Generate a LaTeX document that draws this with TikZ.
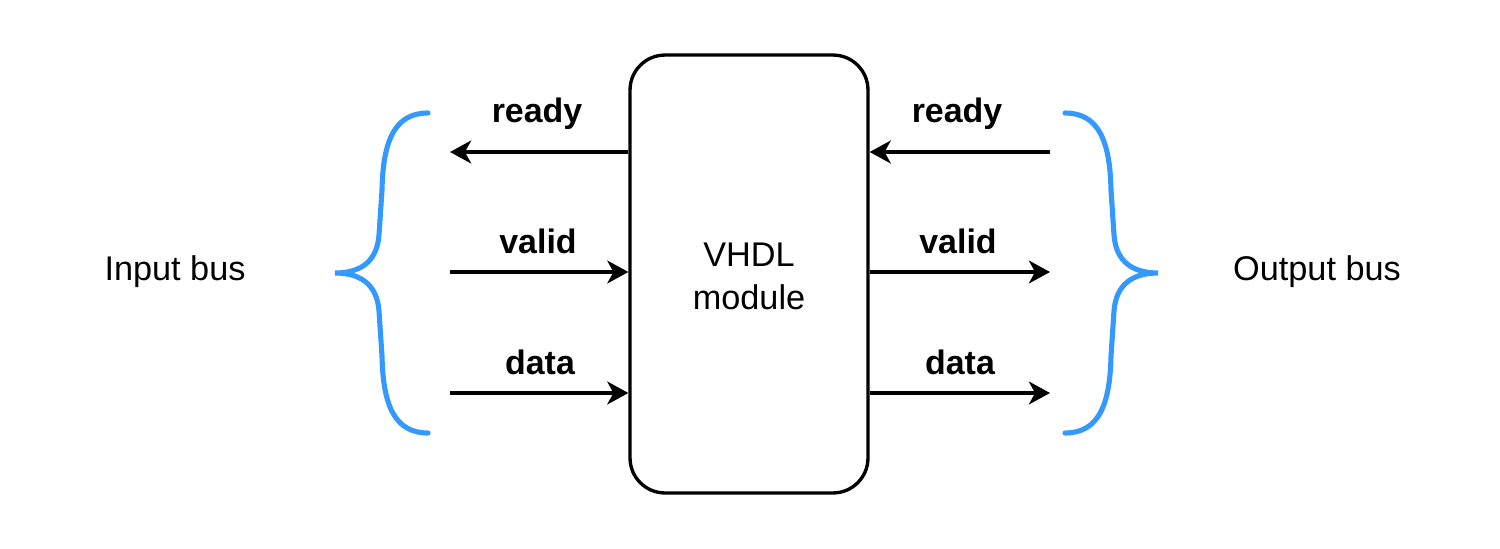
\documentclass[tikz,border=0pt]{standalone}
\usepackage{fontspec}
\setmainfont{Liberation Sans}
\usetikzlibrary{arrows.meta}
\definecolor{bracecol}{HTML}{3399FF}
\begin{document}
\begin{tikzpicture}[x=0.02cm,y=-0.02cm,
  lbl/.style={font=\fontsize{19.3}{23}\selectfont\bfseries, inner sep=0pt},
  txt/.style={font=\fontsize{19.5}{24.5}\selectfont, inner sep=0pt, align=center},
  sig/.style={line width=1.9pt, -{Stealth[length=12pt,width=13pt,inset=3.5pt]}},
  brace/.style={line width=2.9pt, draw=bracecol, line cap=round},
  modbox/.style={draw, line width=1.9pt, rounded corners=0.7cm, minimum width=4.76cm, minimum height=8.76cm, inner sep=0pt}]
\useasboundingbox (0,0) rectangle (1500,548);
\node[modbox] (box) at (749,274) {};
\node[txt] (vhdl) at (749,276) {VHDL\\module};
% free ends
\coordinate (rdL) at (450,152);
\coordinate (vaL) at (450,272);
\coordinate (daL) at (450,393);
\coordinate (rdR) at (1050,152);
\coordinate (vaR) at (1050,272);
\coordinate (daR) at (1050,393);
\draw[sig] (box.west |- rdL) -- (rdL);
\draw[sig] (vaL) -- (box.west |- vaL);
\draw[sig] (daL) -- (box.west |- daL);
\draw[sig] (rdR) -- (box.east |- rdR);
\draw[sig] (box.east |- vaR) -- (vaR);
\draw[sig] (box.east |- daR) -- (daR);
% labels
\node[lbl] (l1) at (537,114) {ready};
\node[lbl] (l2) at (538,241) {valid};
\node[lbl] (l3) at (540,362) {data};
\node[lbl] (r1) at (957,114) {ready};
\node[lbl] (r2) at (958,241) {valid};
\node[lbl] (r3) at (960,362) {data};
% braces
\draw[brace] (428,113) .. controls (395,113) and (383,140) .. (382,190) -- (379,235) .. controls (377,262) and (360,273) .. (335,273) .. controls (360,273) and (377,284) .. (379,311) -- (382,356) .. controls (383,406) and (395,433) .. (428,433);
\draw[brace] (1065,113) .. controls (1098,113) and (1110,140) .. (1111,190) -- (1114,235) .. controls (1116,262) and (1133,273) .. (1158,273) .. controls (1133,273) and (1116,284) .. (1114,311) -- (1111,356) .. controls (1110,406) and (1098,433) .. (1065,433);
\node[txt] (inbus) at (175,272) {Input bus};
\node[txt] (outbus) at (1317,272) {Output bus};
\end{tikzpicture}
\end{document}
